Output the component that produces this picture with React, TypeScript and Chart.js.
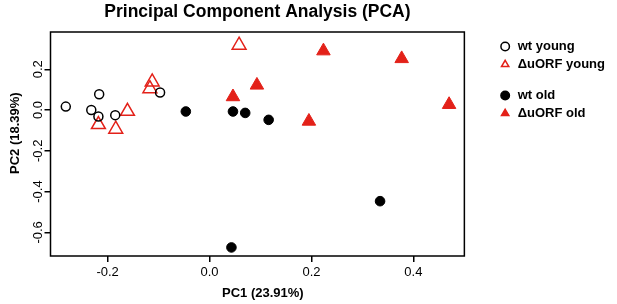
import React, { useEffect, useRef } from 'react';
import { Chart, registerables } from 'chart.js';

Chart.register(...registerables);

const chartTitle = 'Principal Component Analysis (PCA)';
const xTitle = '   PC1 (23.91%)';
const yTitle = '      PC2 (18.39%)';

const xTicks = [-0.2, 0.0, 0.2, 0.4];
const yTicks = [-0.6, -0.4, -0.2, 0.0, 0.2];

const seriesLabels = ['wt young', '\u0394uORF young', 'wt old', '\u0394uORF old'];

const wtYoungX = [-0.282, -0.2165, -0.232, -0.218, -0.185, -0.097];
const wtYoungY = [0.017, 0.078, 0.0, -0.032, -0.025, 0.086];

const koYoungX = [0.058, -0.1125, -0.117, -0.161, -0.218, -0.184];
const koYoungY = [0.318, 0.138, 0.105, -0.006, -0.071, -0.094];

const wtOldX = [-0.0465, 0.046, 0.07, 0.116, 0.3346, 0.043];
const wtOldY = [-0.007, -0.007, -0.014, -0.048, -0.447, -0.674];

const koOldX = [0.046, 0.093, 0.195, 0.2235, 0.377, 0.47];
const koOldY = [0.065, 0.122, -0.055, 0.29, 0.252, 0.027];

const RED = '#E32119';
const FONT = "'Liberation Sans', Arial, Helvetica, sans-serif";

const toPoints = (xs: number[], ys: number[]) => xs.map((x, i) => ({ x, y: ys[i] }));

const boxPlugin = {
  id: 'plotBox',
  afterDatasetsDraw(chart: any) {
    const { ctx, chartArea: a } = chart;
    ctx.save();
    ctx.strokeStyle = '#000';
    ctx.lineWidth = 1.5;
    ctx.strokeRect(a.left, a.top, a.right - a.left, a.bottom - a.top);
    ctx.restore();
  },
};

export default function App() {
  const ref = useRef<HTMLCanvasElement>(null);

  useEffect(() => {
    const canvas = ref.current;
    if (!canvas) return;
    Chart.defaults.font.family = FONT;
    Chart.defaults.color = '#000';

    const chart = new Chart(canvas, {
      type: 'scatter',
      data: {
        datasets: [
          {
            label: seriesLabels[0],
            data: toPoints(wtYoungX, wtYoungY),
            pointStyle: 'circle',
            pointRadius: 4.5,
            pointBorderWidth: 1.5,
            borderColor: '#000',
            backgroundColor: 'rgba(0,0,0,0)',
          },
          {
            label: seriesLabels[1],
            data: toPoints(koYoungX, koYoungY),
            pointStyle: 'triangle',
            pointRadius: 8,
            pointBorderWidth: 1.5,
            borderColor: RED,
            backgroundColor: 'rgba(0,0,0,0)',
          },
          {
            label: seriesLabels[2],
            data: toPoints(wtOldX, wtOldY),
            pointStyle: 'circle',
            pointRadius: 4.8,
            pointBorderWidth: 1,
            borderColor: '#000',
            backgroundColor: '#000',
          },
          {
            label: seriesLabels[3],
            data: toPoints(koOldX, koOldY),
            pointStyle: 'triangle',
            pointRadius: 7.8,
            pointBorderWidth: 1,
            borderColor: RED,
            backgroundColor: RED,
          },
        ],
      },
      options: {
        animation: false,
        responsive: false,
        maintainAspectRatio: false,
        layout: { padding: { left: 0, right: 2, top: 0, bottom: 0 } },
        plugins: {
          tooltip: { enabled: false },
          title: {
            display: true,
            text: chartTitle,
            fullSize: false,
            color: '#000',
            font: { family: FONT, size: 17.5, weight: 'bold', lineHeight: 1.2 },
            padding: { top: 1.5, bottom: 9.5 },
          },
          legend: {
            display: true,
            position: 'right',
            align: 'start',
            fullSize: false,
            maxWidth: 200,
            title: { display: true, text: ' ', font: { size: 3, lineHeight: 1 }, padding: 0 },
            labels: {
              usePointStyle: true,
              boxWidth: 12,
              boxHeight: 6,
              padding: 5,
              color: '#000',
              font: { family: FONT, size: 13, weight: 'bold', lineHeight: 0.615 },
              generateLabels: (c: any) => {
                const items: any[] = c.data.datasets.map((ds: any, i: number) => ({
                  text: ds.label,
                  fillStyle: ds.backgroundColor,
                  strokeStyle: ds.borderColor,
                  lineWidth: 1.5,
                  pointStyle: ds.pointStyle,
                  hidden: false,
                  datasetIndex: i,
                  fontColor: '#000',
                }));
                items.splice(2, 0, {
                  text: [''],
                  fillStyle: 'rgba(0,0,0,0)',
                  strokeStyle: 'rgba(0,0,0,0)',
                  lineWidth: 0,
                  pointStyle: 'circle',
                  hidden: false,
                  fontColor: '#000',
                });
                return items;
              },
            },
          },
        },
        scales: {
          x: {
            type: 'linear',
            position: 'bottom',
            min: -0.312,
            max: 0.5,
            afterBuildTicks: (s: any) => {
              s.ticks = xTicks.map((v) => ({ value: v }));
            },
            afterFit: (s: any) => {
              s.height = 48;
            },
            grid: { display: true, drawOnChartArea: false, drawTicks: true, tickLength: 6, color: '#000', lineWidth: 1.5 },
            border: { display: false },
            ticks: {
              padding: 3,
              color: '#000',
              font: { family: FONT, size: 13 },
              maxRotation: 0,
              callback: (v: any) => Number(v).toFixed(1),
            },
            title: {
              display: true,
              text: xTitle,
              color: '#000',
              font: { family: FONT, size: 13, weight: 'bold' },
              padding: { top: 0, bottom: 3.2 },
            },
          },
          y: {
            type: 'linear',
            position: 'left',
            min: -0.716,
            max: 0.383,
            afterBuildTicks: (s: any) => {
              s.ticks = yTicks.map((v) => ({ value: v }));
            },
            afterFit: (s: any) => {
              s.width = 50.5;
            },
            grid: { display: true, drawOnChartArea: false, drawTicks: true, tickLength: 6, color: '#000', lineWidth: 1.5 },
            border: { display: false },
            ticks: {
              padding: -4.7,
              minRotation: 90,
              maxRotation: 90,
              crossAlign: 'center',
              color: '#000',
              font: { family: FONT, size: 13 },
              callback: (v: any) => Number(v).toFixed(1),
            },
            title: {
              display: true,
              text: yTitle,
              color: '#000',
              font: { family: FONT, size: 13, weight: 'bold' },
              padding: { top: 7.2, bottom: 0 },
            },
          },
          gap: {
            type: 'linear',
            position: 'right',
            display: true,
            grid: { display: false },
            border: { display: false },
            ticks: { display: false },
            afterFit: (s: any) => {
              s.width = 29.8;
            },
          },
        },
      },
      plugins: [boxPlugin],
    } as any);

    return () => chart.destroy();
  }, []);

  return (
    <div style={{ position: 'absolute', left: 0, top: 0, width: 617, height: 304, background: '#fff' }}>
      <canvas ref={ref} width={617} height={304} style={{ display: 'block' }} />
    </div>
  );
}
